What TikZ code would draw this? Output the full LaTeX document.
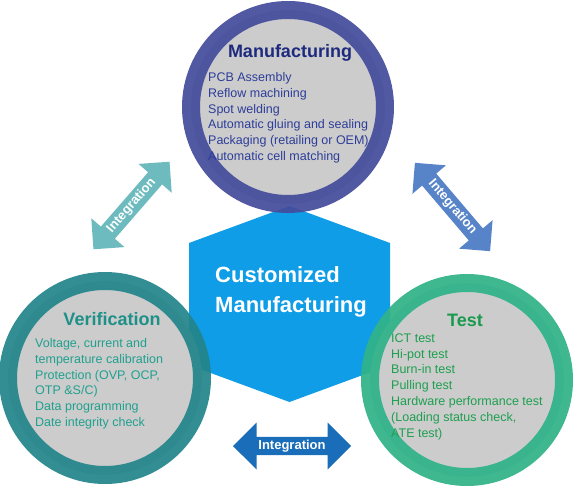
\documentclass[tikz,border=0pt]{standalone}
\usepackage{fontspec}
\setmainfont{Liberation Sans}
\usetikzlibrary{shapes,arrows,positioning}

\definecolor{hexblue}{HTML}{0E9DE6}
\definecolor{ringgray}{HTML}{CBCCCB}
\definecolor{manuring}{HTML}{454C9C}
\definecolor{verring}{HTML}{24858B}
\definecolor{testring}{HTML}{30B388}
\definecolor{manutitle}{HTML}{1E2A7E}
\definecolor{manutext}{HTML}{2E3D9A}
\definecolor{vertitle}{HTML}{1F9088}
\definecolor{vertext}{HTML}{21A08F}
\definecolor{testtitle}{HTML}{1A9A4E}
\definecolor{testtext}{HTML}{1E9F50}
\definecolor{leftarrow}{HTML}{6DBBBE}
\definecolor{rightarrow}{HTML}{5784C8}
\definecolor{bottomarrow}{HTML}{1A6DB8}

\begin{document}
\begin{tikzpicture}[
    x=1pt, y=-1pt,
    ring node/.style={circle,minimum size=194pt,inner sep=0pt,line width=18pt,fill=ringgray,draw opacity=0.93},
    title node/.style={anchor=base,inner sep=0pt,font=\fontsize{18}{20}\selectfont\bfseries},
    item node/.style={anchor=north west,inner sep=0pt,align=left,font=\fontsize{12.5}{15.8}\selectfont},
    link node/.style={double arrow,double arrow head extend=10pt,inner sep=1pt,text=white,font=\fontsize{13}{15}\selectfont\bfseries}
]
\useasboundingbox (0,0) rectangle (575,489);

% Hexagon
\fill[hexblue] (289.5,206) -- (390,243) -- (390,365) -- (289.5,402) -- (189,365) -- (189,243) -- cycle;
\node[anchor=north west,inner sep=0pt,align=left,text=white,font=\fontsize{22}{30}\selectfont\bfseries] (custom) at (215,266) {Customized\\Manufacturing};

% Circles
\node[ring node,draw=manuring] (manu_ring) at (288,107) {};
\node[ring node,draw=verring] (ver_ring) at (105,378) {};
\node[ring node,draw=testring] (test_ring) at (467,380) {};

% Titles
\node[title node,text=manutitle] (manu_title) at (290,57.5) {Manufacturing};
\node[title node,text=vertitle] (ver_title) at (112,325.5) {Verification};
\node[title node,text=testtitle] (test_title) at (465,326.5) {Test};

% Items
\node[item node,text=manutext] (manu_items) at (208,72.3) {PCB Assembly\\Reflow machining\\Spot welding\\Automatic gluing and sealing\\Packaging (retailing or OEM)\\Automatic cell matching};
\node[item node,text=vertext] (ver_items) at (35,338.3) {Voltage, current and\\temperature calibration\\Protection (OVP, OCP,\\OTP \&S/C)\\Data programming\\Date integrity check};
\node[item node,text=testtext] (test_items) at (391,333.3) {ICT test\\Hi-pot test\\Burn-in test\\Pulling test\\Hardware performance test\\(Loading status check,\\ATE test)};

% Integration arrows
\node[link node,fill=leftarrow,rotate=49,minimum height=116pt,minimum width=44pt] (left_link) at (131.5,205.5) {Integration};
\node[link node,fill=rightarrow,rotate=-49.6,minimum height=116pt,minimum width=44pt] (right_link) at (452.5,207) {Integration};
\node[link node,fill=bottomarrow,minimum height=118pt,minimum width=47pt,double arrow head extend=11.5pt] (bottom_link) at (292,446) {Integration};

\end{tikzpicture}
\end{document}
